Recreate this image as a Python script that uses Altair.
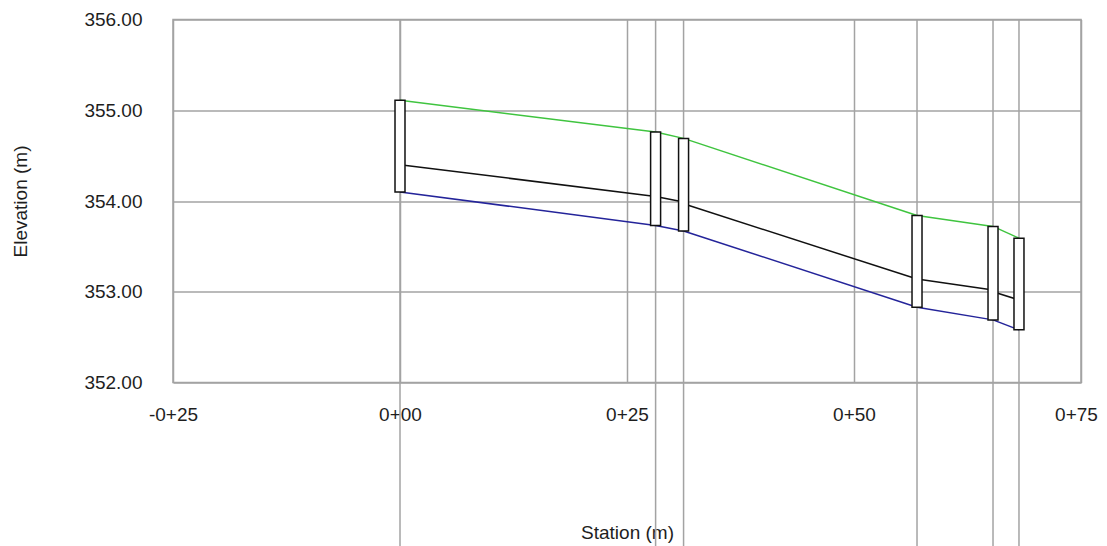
import altair as alt
import pandas as pd

# ---- data ----
structures = ["S1", "S2", "S3", "S4", "S5", "S6"]
station = [0.0, 28.15, 31.23, 56.94, 65.31, 68.17]
rim = [355.11, 354.76, 354.69, 353.84, 353.72, 353.59]
invert = [354.10, 353.73, 353.67, 352.83, 352.69, 352.58]
hgl_start = [354.40, 354.05, 353.97, 353.14, 353.00]
hgl_end = [354.05, 353.99, 353.14, 353.02, 352.91]

x_ticks = [-25, 0, 25, 50, 75]
x_tick_labels = ["-0+25", "0+00", "0+25", "0+50", "0+75"]
y_ticks = [352, 353, 354, 355, 356]
half_width = 0.55

# ---- tables ----
sdf = pd.DataFrame({
    "name": structures,
    "station": station,
    "left": [s - half_width for s in station],
    "right": [s + half_width for s in station],
    "rim": rim,
    "invert": invert,
})
pdf = pd.DataFrame({
    "from": station[:-1],
    "to": station[1:],
    "rim_from": rim[:-1],
    "rim_to": rim[1:],
    "inv_from": invert[:-1],
    "inv_to": invert[1:],
    "hgl_from": hgl_start,
    "hgl_to": hgl_end,
})

FONT = "Liberation Sans"
GRID = "#a3a3a3"
TEXT = "#1e1e1e"
FS = 19

label_expr = " : ".join(
    f"datum.value == {v} ? '{l}'" for v, l in zip(x_ticks, x_tick_labels)
) + " : ''"

xscale = alt.Scale(domain=[-25, 75], nice=False, zero=False)
yscale = alt.Scale(domain=[352, 356], nice=False, zero=False)

xaxis = alt.Axis(
    values=x_ticks, labelExpr=label_expr, grid=True, gridColor=GRID, gridWidth=1.5,
    ticks=False, domain=False, labelPadding=23, labelFont=FONT, labelFontSize=FS,
    labelFlush=False, labelOverlap=False, labelBound=False,
    labelOffset={"condition": {"test": f"datum.value == {x_ticks[-1]}", "value": -5}, "value": 0},
    labelColor=TEXT, title="Station (m)", titleFont=FONT, titleFontSize=FS,
    titleFontWeight="normal", titleColor=TEXT, titleY=150, titleBaseline="middle",
)
yaxis = alt.Axis(
    values=y_ticks, format=".2f", grid=True, gridColor=GRID, gridWidth=1.5,
    ticks=False, domain=False, labelPadding=31, labelFont=FONT, labelFontSize=FS,
    labelFlush=False, labelOverlap=False, labelBaseline="middle",
    labelColor=TEXT, title="Elevation (m)", titleFont=FONT, titleFontSize=FS,
    titleFontWeight="normal", titleColor=TEXT, titleX=-153, titleAngle=270,
    titleBaseline="middle",
)

# structure station lines (extend below the plot)
slines = alt.Chart(sdf).mark_rule(color=GRID, strokeWidth=1.5, clip=False).encode(
    x=alt.X("station:Q", scale=xscale, axis=xaxis),
    y=alt.value(0),
    y2=alt.value(700),
)

base = alt.Chart(pdf)
ground = base.mark_rule(color="#3fc43f", strokeWidth=1.5).encode(
    x=alt.X("from:Q", scale=xscale, axis=xaxis), x2="to:Q",
    y=alt.Y("rim_from:Q", scale=yscale, axis=yaxis), y2="rim_to:Q",
)
inv = base.mark_rule(color="#24249a", strokeWidth=1.5).encode(
    x=alt.X("from:Q", scale=xscale, axis=xaxis), x2="to:Q",
    y=alt.Y("inv_from:Q", scale=yscale, axis=yaxis), y2="inv_to:Q",
)
hgl = base.mark_rule(color="#111111", strokeWidth=1.5).encode(
    x=alt.X("from:Q", scale=xscale, axis=xaxis), x2="to:Q",
    y=alt.Y("hgl_from:Q", scale=yscale, axis=yaxis), y2="hgl_to:Q",
)
boxes = alt.Chart(sdf).mark_rect(fill="white", stroke="#111111", strokeWidth=1.5).encode(
    x=alt.X("left:Q", scale=xscale, axis=xaxis), x2="right:Q",
    y=alt.Y("rim:Q", scale=yscale, axis=yaxis), y2="invert:Q",
)

chart = alt.layer(slines, ground, inv, hgl, boxes).properties(
    width=908,
    height=363,
    autosize=alt.AutoSizeParams(type="none"),
    padding={"left": 165, "top": 11.5, "right": 18, "bottom": 163.5},
    background="white",
).configure_view(stroke=GRID, strokeWidth=1.5)

chart.save("out.html", embed_options={"renderer": "svg", "actions": False})
